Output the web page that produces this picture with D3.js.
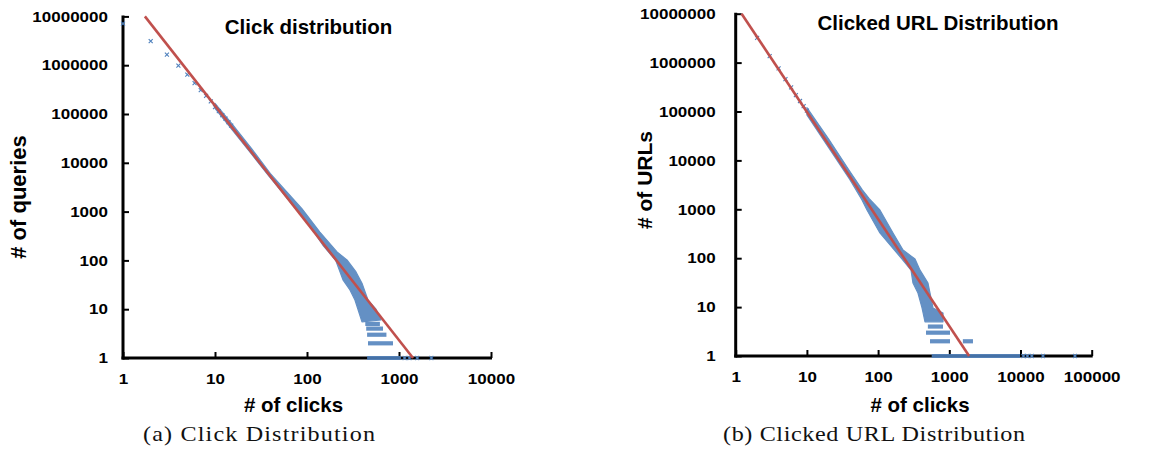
<!DOCTYPE html>
<html><head><meta charset="utf-8">
<script src="https://cdn.jsdelivr.net/npm/d3@7"></script>
<style>body{margin:0;background:#fff}svg{display:block;background:#fff}</style>
</head><body>
<svg id="chart" width="1149" height="452"></svg>
<script>
// ---------- data ----------
const yTickValues = [1, 10, 100, 1000, 10000, 100000, 1000000, 10000000];
const xTicksA = [1, 10, 100, 1000, 10000];
const xTicksB = [1, 10, 100, 1000, 10000, 100000];

const titles = ["Click distribution", "Clicked URL Distribution"];
const yLabels = ["# of queries", "# of URLs"];
const xLabel = "# of clicks";
const captions = ["(a) Click Distribution", "(b) Clicked URL Distribution"];

// panel (a): individually visible points [clicks, queries]
const sparseA = [[1,7.1e6],[2,3.1e6],[3,1.64e6],[4,9.8e5],[5,6.4e5],[6,4.3e5],[7,3.1e5],
  [8,2.34e5],[9,1.82e5],[10,1.39e5],[11,1.15e5],[12,9.5e4],[13,8.0e4],[14,6.8e4],[15,5.8e4]];
// outline of the dense point cloud (upper edge, then lower edge back)
const cloudA = [[10,1.65e5],[15,6.6e4],[25,1.95e4],[40,6000],[60,2550],[88,1150],[138,380],
  [212,149],[272,102],[341,58],[396,34],[460,15.4],[562,10],[637,6],
  [396,5.5],[332,15.4],[293,24.7],[246,40],[205,100],[150,200],[110,480],[80,1000],[55,2350],
  [38,5500],[25,1.5e4],[15,5.0e4],[10,1.3e5]];
// rows of points at small integer counts [count, from clicks, to clicks]
const rowsA = [[5,430,620],[4,440,670],[3,450,730],[2,460,860],[1,450,1050]];
const outliersA = [[1150,1],[1300,1],[1580,1],[2250,1]];
const fitA = [[1.73,1e7],[1420,1]];

// panel (b)
const sparseB = [[2,3.2e6],[3,1.36e6],[4,7.6e5],[5,4.6e5],[6,3.1e5],[7,2.17e5],[8,1.64e5],[9,1.29e5],[10,1.04e5]];
const cloudB = [[10,1.2e5],[20,2.8e4],[40,6000],[60,2500],[75,1650],[106,968],[162,328],[224,147],
  [330,96],[388,57],[502,31],[536,19.4],[590,9.6],[816,7.6],[816,5],
  [456,5],[414,9.6],[363,19.4],[309,31],[290,57],[217,96],[106,328],[69.8,968],[59.4,1550],
  [40,4100],[20,1.87e4],[10,8.5e4]];
const rowsB = [[4,500,815],[3,471,1023],[2,536,1023],[2,1550,2150],[1,566,9840]];
const outliersB = [[11000,1],[12500,1],[14400,1],[20700,1],[58200,1]];
const fitB = [[1.21,1e7],[1900,1]];

// ---------- drawing ----------
const BLUE = "#4F81BD", RED = "#C0504D";
const SANS = "'Liberation Sans', Arial, Helvetica, sans-serif";
const SERIF = "'Liberation Serif', 'Times New Roman', serif";
const STRETCH = 1.15;
const svg = d3.select("#chart");

const panels = [
  {left:123, right:491, top:16.4, bottom:358, xMax:10000, xTicks:xTicksA, pad:15,
   sparse:sparseA, cloud:cloudA, rows:rowsA, outliers:outliersA, fit:fitA,
   title:titles[0], titleX:308.5, titleY:34, yLab:yLabels[0], yLabX:26, yLabY:197, yLabSize:22,
   xLabX:293.5, xLabY:412, cap:captions[0], capX:259, capY:441, capW:232},
  {left:735.7, right:1091.7, top:13.7, bottom:356, xMax:100000, xTicks:xTicksB, pad:20,
   sparse:sparseB, cloud:cloudB, rows:rowsB, outliers:outliersB, fit:fitB,
   title:titles[1], titleX:938, titleY:30, yLab:yLabels[1], yLabX:652, yLabY:180, yLabSize:21,
   xLabX:920, xLabY:412, cap:captions[1], capX:874, capY:441, capW:302}
];

panels.forEach(p => {
  const x = d3.scaleLog().domain([1, p.xMax]).range([p.left, p.right]);
  const y = d3.scaleLog().domain([1, 1e7]).range([p.bottom, p.top]);
  const g = svg.append("g");

  // axes ticks
  const ya = g.append("g").attr("transform", `translate(${p.left},0)`)
    .call(d3.axisLeft(y).tickValues(yTickValues).tickSize(-6).tickPadding(p.pad).tickFormat(d3.format("d")));
  const xa = g.append("g").attr("transform", `translate(0,${p.bottom})`)
    .call(d3.axisBottom(x).tickValues(p.xTicks).tickSize(-6).tickPadding(15).tickFormat(d3.format("d")));
  [ya, xa].forEach(a => {
    a.select(".domain").remove();
    a.selectAll(".tick line").attr("stroke", "#000").attr("stroke-width", 2);
    a.selectAll(".tick text").attr("fill", "#000").style("font-family", SANS)
      .style("font-weight", "bold").style("font-size", "14.8px");
  });
  // widen tick labels like the reference glyphs
  ya.selectAll(".tick text").each(function() {
    const t = d3.select(this); const tx = +t.attr("x");
    t.attr("x", 0).attr("transform", `translate(${tx},0) scale(${STRETCH},1)`);
  });
  xa.selectAll(".tick text").each(function() {
    const t = d3.select(this); const ty = +t.attr("y");
    t.attr("y", 0).attr("transform", `translate(0,${ty}) scale(${STRETCH},1)`);
  });

  // axis lines
  g.append("line").attr("x1", p.left).attr("x2", p.left).attr("y1", p.top - 1).attr("y2", p.bottom + 1.5)
    .attr("stroke", "#000").attr("stroke-width", 3);
  g.append("line").attr("x1", p.left - 1.5).attr("x2", p.right + 1).attr("y1", p.bottom).attr("y2", p.bottom)
    .attr("stroke", "#000").attr("stroke-width", 3);

  // dense cloud
  g.append("path").datum(p.cloud)
    .attr("d", d3.line().x(d => x(d[0])).y(d => y(d[1])).curve(d3.curveLinearClosed))
    .attr("fill", BLUE).attr("stroke", BLUE).attr("stroke-width", 1.2).attr("stroke-linejoin", "round")
    .attr("opacity", 0.88);
  // integer rows
  g.selectAll(".row").data(p.rows).enter().append("line")
    .attr("x1", d => x(d[1])).attr("x2", d => x(d[2]))
    .attr("y1", d => y(d[0])).attr("y2", d => y(d[0]))
    .attr("stroke", BLUE).attr("stroke-width", 4.2).attr("opacity", 0.88);
  // individual markers
  const marks = p.sparse.concat(p.outliers);
  g.selectAll(".pt").data(marks).enter().append("path")
    .attr("transform", d => `translate(${x(d[0])},${y(d[1])})`)
    .attr("d", "M-2,-2L2,2M-2,2L2,-2")
    .attr("stroke", BLUE).attr("stroke-width", 1.1).attr("fill", "none");

  // fitted line
  g.append("path").datum(p.fit)
    .attr("d", d3.line().x(d => x(d[0])).y(d => y(d[1])))
    .attr("stroke", RED).attr("stroke-width", 2.6).attr("fill", "none");

  // texts
  g.append("text").attr("x", p.titleX).attr("y", p.titleY).attr("text-anchor", "middle")
    .style("font-family", SANS).style("font-weight", "bold").style("font-size", "20.5px").text(p.title);
  g.append("text").attr("transform", `translate(${p.yLabX},${p.yLabY}) rotate(-90)`).attr("text-anchor", "middle")
    .style("font-family", SANS).style("font-weight", "bold").style("font-size", p.yLabSize + "px").text(p.yLab);
  g.append("text").attr("x", p.xLabX).attr("y", p.xLabY).attr("text-anchor", "middle")
    .style("font-family", SANS).style("font-weight", "bold").style("font-size", "20.5px").text(xLabel);
  g.append("text").attr("transform", `translate(${p.capX},${p.capY}) scale(${STRETCH},1)`)
    .attr("text-anchor", "middle")
    .attr("textLength", p.capW / STRETCH).attr("lengthAdjust", "spacing")
    .style("font-family", SERIF).style("font-size", "21px").attr("fill", "#111").text(p.cap);
});
</script>
</body></html>
